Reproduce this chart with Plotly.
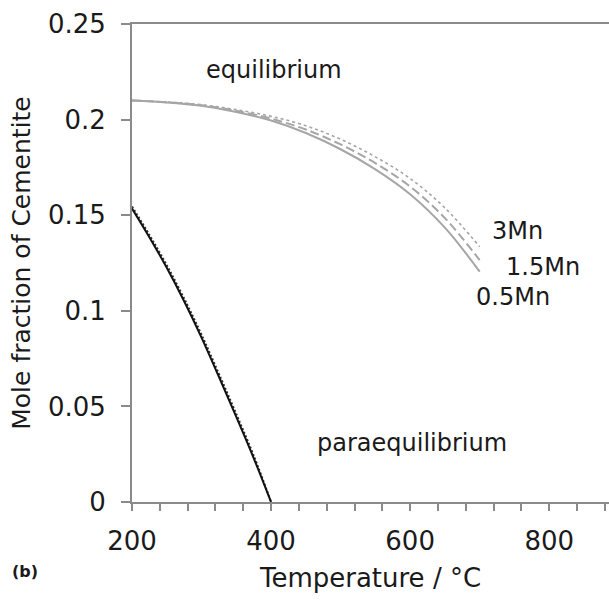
import plotly.graph_objects as go

# Equilibrium cementite fraction (gray curves)
T_eq = [200, 250, 300, 350, 400, 450, 500, 550, 600, 650, 700]
eq_05Mn = [0.2100, 0.2090, 0.2072, 0.2040, 0.1995, 0.1930, 0.1845, 0.1740, 0.1610, 0.1435, 0.1205]
eq_15Mn = [0.2100, 0.2091, 0.2075, 0.2046, 0.2005, 0.1948, 0.1870, 0.1772, 0.1650, 0.1485, 0.1265]
eq_3Mn = [0.2100, 0.2092, 0.2078, 0.2052, 0.2017, 0.1968, 0.1897, 0.1805, 0.1692, 0.1538, 0.1335]

# Paraequilibrium cementite fraction (black curves)
T_para = [200, 225, 250, 275, 300, 325, 350, 375, 400]
para_a = [0.1535, 0.1385, 0.1225, 0.1050, 0.0860, 0.0655, 0.0445, 0.0230, 0.0]
para_b = [0.1545, 0.1397, 0.1238, 0.1064, 0.0875, 0.0670, 0.0460, 0.0243, 0.0]

y_tickvals = [0, 0.05, 0.1, 0.15, 0.2, 0.25]
y_ticktext = ["0", "0.05", "0.1", "0.15", "0.2", "0.25"]
x_tickvals = [200, 400, 600, 800]
x_ticktext = ["200", "400", "600", "800"]

FONT = "DejaVu Sans, Verdana, sans-serif"
GRAY = "#a6a6a6"
AXIS = "#8a8a8a"
TXT = "#1a1a1a"

fig = go.Figure()
fig.add_trace(go.Scatter(x=T_eq, y=eq_05Mn, mode="lines", line=dict(color=GRAY, width=2, shape="spline"), name="0.5Mn"))
fig.add_trace(go.Scatter(x=T_eq, y=eq_15Mn, mode="lines", line=dict(color=GRAY, width=2, dash="9px,4px", shape="spline"), name="1.5Mn"))
fig.add_trace(go.Scatter(x=T_eq, y=eq_3Mn, mode="lines", line=dict(color=GRAY, width=1.6, dash="3px,3px", shape="spline"), name="3Mn"))
fig.add_trace(go.Scatter(x=T_para, y=para_b, mode="lines", line=dict(color="#333333", width=2, dash="2px,2px", shape="spline"), name="para 3Mn"))
fig.add_trace(go.Scatter(x=T_para, y=para_a, mode="lines", line=dict(color="#111111", width=2, shape="spline"), name="para 0.5Mn"))

ann_font = dict(family=FONT, size=24, color=TXT)
fig.add_annotation(x=404, y=0.226, text="equilibrium", showarrow=False, font=ann_font)
fig.add_annotation(x=603, y=0.031, text="paraequilibrium", showarrow=False, font=ann_font)
fig.add_annotation(x=755, y=0.1417, text="3Mn", showarrow=False, font=ann_font)
fig.add_annotation(x=791, y=0.1229, text="1.5Mn", showarrow=False, font=ann_font)
fig.add_annotation(x=748, y=0.1072, text="0.5Mn", showarrow=False, font=ann_font)
fig.add_annotation(xref="paper", yref="paper", x=-0.224, y=-0.146, xanchor="center", yanchor="middle",
                   text="<b>(b)</b>", showarrow=False, font=dict(family=FONT, size=16, color=TXT))

fig.update_xaxes(
    range=[200, 886], showgrid=False, zeroline=False,
    showline=True, linecolor=AXIS, linewidth=2, mirror=True,
    ticks="outside", ticklen=7, tickwidth=2, tickcolor=AXIS,
    tickvals=x_tickvals, ticktext=x_ticktext,
    minor=dict(ticks="outside", ticklen=7, tickwidth=2, tickcolor=AXIS, dtick=40, tick0=200),
    tickfont=dict(family=FONT, size=26, color=TXT),
    ticklabelstandoff=8,
    title=dict(text="Temperature / °C", font=dict(family=FONT, size=26, color=TXT), standoff=14),
)
fig.update_yaxes(
    range=[0, 0.25], showgrid=False, zeroline=False,
    showline=True, linecolor=AXIS, linewidth=2,
    ticks="outside", ticklen=9, tickwidth=2, tickcolor=AXIS,
    tickvals=y_tickvals, ticktext=y_ticktext,
    tickfont=dict(family=FONT, size=26, color=TXT),
    ticklabelstandoff=10,
    title=dict(text="Mole fraction of Cementite", font=dict(family=FONT, size=25, color=TXT), standoff=10),
)
fig.update_layout(
    width=609, height=601,
    margin=dict(l=132, r=0, t=24, b=99, autoexpand=False),
    plot_bgcolor="white", paper_bgcolor="white",
    showlegend=False,
)
fig.write_html("out.html")
